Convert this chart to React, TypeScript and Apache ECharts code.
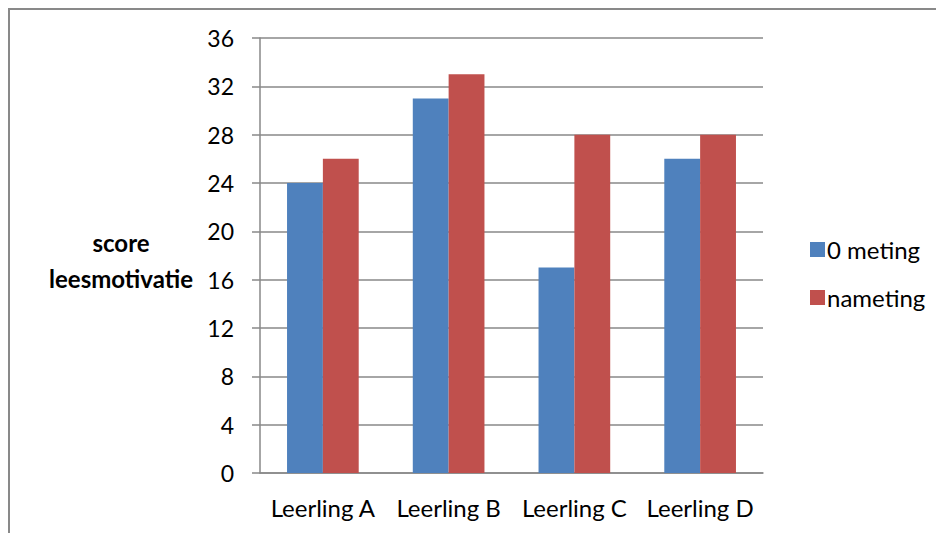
import React, { useEffect, useRef } from "react";
import * as echarts from "echarts";

const categories = ["Leerling A", "Leerling B", "Leerling C", "Leerling D"];
const nulmeting = [24, 31, 17, 26];
const nameting = [26, 33, 28, 28];
const seriesNames = ["0 meting", "nameting"];
const axisTitle = ["score", "leesmotivatie"];

const FONT = "Lato";
const GRAY = "#898989";

export default function App() {
  const ref = useRef<HTMLDivElement>(null);

  useEffect(() => {
    if (!ref.current) return;
    const chart = echarts.init(ref.current, undefined, { renderer: "svg" });
    const titleStyle = (text: string) => ({
      text,
      fontFamily: FONT,
      fontSize: 24,
      fontWeight: "bold",
      fill: "#000",
      align: "center",
      verticalAlign: "middle",
    });
    chart.setOption({
      animation: false,
      backgroundColor: "#ffffff",
      textStyle: { fontFamily: FONT },
      graphic: [
        {
          type: "rect",
          shape: { x: 1, y: 1, width: 960, height: 700 },
          style: { fill: "none", stroke: GRAY, lineWidth: 2 },
          silent: true,
        },
        { type: "text", x: 113, y: 234, style: titleStyle(axisTitle[0]) },
        { type: "text", x: 113, y: 270, style: titleStyle(axisTitle[1]) },
      ],
      legend: {
        orient: "vertical",
        left: 797,
        top: 224,
        itemWidth: 15,
        itemHeight: 15,
        itemGap: 23,
        icon: "rect",
        data: seriesNames,
        textStyle: {
          fontFamily: FONT,
          fontSize: 24,
          lineHeight: 25,
          color: "#000",
          padding: [0, 0, 0, -3],
        },
      },
      grid: { left: 252, top: 30, right: 181, bottom: 60 },
      xAxis: {
        type: "category",
        data: categories,
        axisLine: { lineStyle: { color: GRAY, width: 1.5 } },
        axisTick: { length: 8, lineStyle: { color: GRAY, width: 1.5 } },
        axisLabel: {
          color: "#000",
          fontSize: 24,
          fontFamily: FONT,
          margin: 22,
          interval: 0,
          hideOverlap: false,
        },
      },
      yAxis: {
        type: "value",
        min: 0,
        max: 36,
        interval: 4,
        axisLine: { show: true, lineStyle: { color: GRAY, width: 1.5 } },
        axisTick: { show: true, length: 8, lineStyle: { color: GRAY, width: 1.5 } },
        splitLine: { lineStyle: { color: GRAY, width: 1.5 } },
        axisLabel: { color: "#000", fontSize: 23, fontFamily: FONT, margin: 26 },
      },
      series: [
        {
          name: seriesNames[0],
          type: "bar",
          data: nulmeting,
          itemStyle: { color: "#4F81BD" },
          barGap: "0%",
          barCategoryGap: "43%",
        },
        {
          name: seriesNames[1],
          type: "bar",
          data: nameting,
          itemStyle: { color: "#C0504D" },
          barGap: "0%",
          barCategoryGap: "43%",
        },
      ],
    });
    return () => chart.dispose();
  }, []);

  return <div ref={ref} style={{ width: 936, height: 525 }} />;
}
